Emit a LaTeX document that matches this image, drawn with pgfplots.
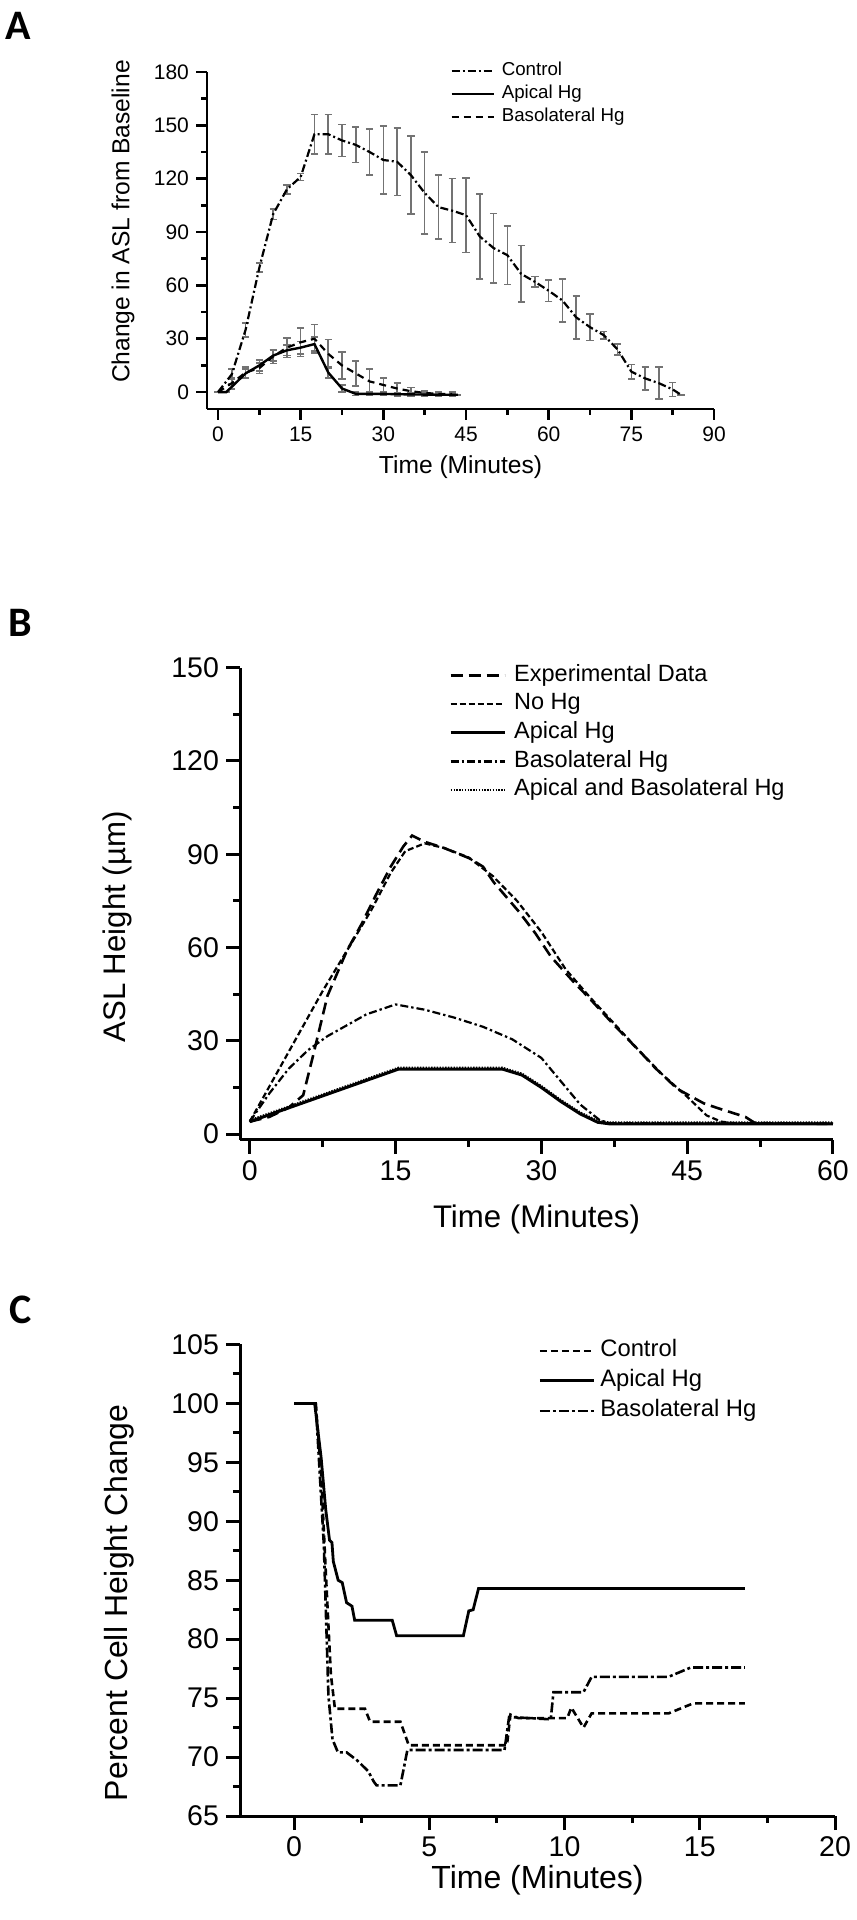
\documentclass[border=0pt]{standalone}
\usepackage{fontspec}
\setmainfont{Liberation Sans}
\newfontfamily\letterfont{Carlito}
\usepackage{pgfplots}
\usepackage{pgfplotstable}
\pgfplotsset{compat=1.18}
\newcommand\fs[1]{\fontsize{#1}{#1}\selectfont}

% ---------- Panel A data ----------
\pgfplotstableread{
x y e
0 0 0
2.5 10 3
5 35 4
7.5 70 2.5
10 100 3
12.5 114 2.5
15 121 2
17.5 145 11
20 145 11
22.5 141.5 9
25 139 10
27.5 135 13
30 130.5 19
32.5 129.5 19
35 122 22
37.5 112 23
40 104 18
42.5 102 18
45 99.5 21
47.5 87.5 24
50 81 19.5
52.5 77 16.5
55 66.5 16
57.5 62 3
60 57 6
62.5 51.5 12
65 42 12
67.5 36.5 7.5
70 32 2
72.5 24 3
75 11.5 4
77.5 7.7 6.5
80 5 9
82.5 1.5 4
84 -1.5 0
}\ctrlA
\pgfplotstableread{
x y e
0 0 0
1.5 0 0
2.5 3 1.5
5 10.5 2.5
7.5 15 3
10 20.5 3
12.5 23.5 3
15 25 3.5
17.5 27 4
20 11 3
22.5 2 2
25 -1 1
27.5 -1 1
30 -1 1
32.5 -1.2 1
35 -1.3 1
37.5 -1.4 0.8
40 -1.5 0.8
42.5 -1.5 0.8
43.5 -1.5 0
}\apicA
\pgfplotstableread{
x y e
0 0 0
2.5 5 3
5 11 3
7.5 13.5 3
10 20 4
12.5 25 5.5
15 28 8
17.5 30 8
20 21.5 8
22.5 15 7.5
25 10.5 7
27.5 6 7
30 4 4
32.5 2 3
35 0.5 2
37.5 -0.5 1
40 -1 1
42.5 -1 1
}\basoA

% ---------- Panel B data ----------
\pgfplotstableread{
x y
0 4
2 5.5
4 8.5
5.5 12.5
6.5 25
8 44.5
10 59
11.5 67.5
13 77
14.5 86
15.8 92.5
16.7 96
18 94
20 92
22.6 88.7
24 86
25.1 81
27.7 71.5
29.4 64.5
31 57
33.3 49
35 43.5
37.5 35
40 27
41.7 21.3
44 14.5
46.7 9.9
48 8.5
50 6.5
51 5.5
52 3.5
60 3.3
}\expB
\pgfplotstableread{
x y
0 4
2.5 18
5 32
7.5 46
10 59
12.5 72
14.5 84
16 91
18 93.5
20 92
22.5 89
25 83
27.5 75
30 65
32.5 53
35 44
37.5 35.5
40 27
42.5 19
45 12
47 6
48.5 4
50 3.5
60 3.3
}\nohgB
\pgfplotstableread{
x y
0 4
15.3 20.9
26 20.9
28 19
30 15
32 10.5
34 6.5
35.8 3.8
37 3.3
60 3.3
}\apicB
\pgfplotstableread{
x y
0 4
2 13
4 21
6 27
8 31.5
10 35
12 38.5
15 41.7
18 40
21 37.5
24 34.5
27 30.5
30 24.5
32 17
34 9.5
36 4.5
37 3.5
60 3.3
}\basoB

% ---------- Panel C data ----------
\pgfplotstableread{
x y
0 100
0.76 100
1.0 95.4
1.17 91
1.31 88.4
1.4 88.2
1.45 86.6
1.63 85
1.78 84.8
1.94 83.1
2.14 82.8
2.24 81.6
3.63 81.6
3.79 80.3
6.26 80.3
6.46 82.4
6.62 82.5
6.82 84.3
16.67 84.3
}\apicC
\pgfplotstableread{
x y
0 100
0.8 100
1.0 94
1.2 84.4
1.36 77
1.51 74.1
2.62 74.1
2.81 73
3.93 73
4.24 71
7.87 71
8.0 73.6
8.3 73.3
10.1 73.3
10.25 74.2
10.7 72.5
11.0 73.7
13.84 73.7
14.75 74.55
16.67 74.55
}\ctrlC
\pgfplotstableread{
x y
0 100
0.8 100
1.1 88
1.27 75.2
1.42 71.5
1.62 70.4
1.94 70.4
2.34 69.7
2.74 68.8
2.95 67.9
3.05 67.6
3.93 67.6
4.19 70.6
7.78 70.6
7.95 73.4
9.49 73.2
9.59 75.5
10.7 75.5
11.0 76.8
13.84 76.8
14.67 77.6
16.67 77.6
}\basoC

\pgfplotsset{
  base/.style={
    scale only axis,
    anchor=south west,
    axis x line*=bottom,
    axis y line*=left,
    xtick pos=left, ytick pos=left,
    tick align=outside,
    /pgf/number format/assume math mode=true,
    minor x tick num=1, minor y tick num=1,
    every tick/.style={black, line width=1.3pt},
    axis line style={black, line width=1.3pt},
    clip=false,
    legend cell align=left,
  },
  ebar/.style={draw=none, mark=none, forget plot,
    error bars/.cd, y dir=both, y explicit,
    error bar style={draw=gray!90!black, line width=0.8pt},
    error mark options={rotate=90, draw=gray!90!black, mark size=1.8pt, line width=0.8pt}},
}

\begin{document}
\begin{tikzpicture}

% ================= Panel A =================
\begin{axis}[base,
  at={(103.5pt,755.5pt)},
  width=253.5pt, height=168.5pt,
  xmin=-2, xmax=90, ymin=-9.5, ymax=180,
  xtick={0,15,...,90}, ytick={0,30,...,180},
  major tick length=5.5pt, minor tick length=3pt,
  tick label style={font=\fs{10.5}},
  xlabel={Time (Minutes)}, ylabel={Change in ASL from Baseline},
  label style={font=\fs{12.3}},
  xlabel style={at={(axis description cs:0.5,-0.172)}, anchor=center},
  ylabel style={at={(axis description cs:-0.1657,0.556)}, anchor=center, rotate=0},
  legend style={draw=none, fill=none, at={(axis description cs:0.4675,1.043)}, anchor=north west,
    font=\fs{9.35}, row sep=2.15pt, column sep=3.5pt,
    nodes={inner sep=0pt, text height=7pt, text depth=2.35pt}},
  legend image code/.code={\draw[#1] (0pt,0pt) -- (21pt,0pt);},
]
\addplot[ebar] table[x=x,y=y,y error=e] {\ctrlA};
\addplot[ebar] table[x=x,y=y,y error=e] {\apicA};
\addplot[ebar] table[x=x,y=y,y error=e] {\basoA};
\addplot[black, line width=1.1pt, dash pattern=on 4pt off 1.5pt on 1pt off 1.5pt] table[x=x,y=y] {\ctrlA};
\addlegendentry{Control}
\addplot[black, line width=1.2pt] table[x=x,y=y] {\apicA};
\addlegendentry{Apical Hg}
\addplot[black, line width=1.1pt, dash pattern=on 3.5pt off 2.5pt] table[x=x,y=y] {\basoA};
\addlegendentry{Basolateral Hg}
\end{axis}

% ================= Panel B =================
\begin{axis}[base,
  at={(120pt,390.15pt)},
  width=296.5pt, height=236pt,
  xmin=-1, xmax=60, ymin=-1.8, ymax=150,
  xtick={0,15,...,60}, ytick={0,30,...,150},
  major tick length=7pt, minor tick length=3.5pt,
  every tick/.style={black, line width=1.5pt},
  axis line style={black, line width=1.5pt},
  tick label style={font=\fs{14.25}},
  xlabel={Time (Minutes)}, ylabel={ASL Height (µm)},
  label style={font=\fs{15.6}},
  xlabel style={at={(axis description cs:0.5,-0.168)}, anchor=center},
  ylabel style={at={(axis description cs:-0.2066,0.4506)}, anchor=center, rotate=0},
  legend style={draw=none, fill=none, at={(axis description cs:0.342,1.018)}, anchor=north west,
    font=\fs{11.75}, row sep=2.6pt, column sep=4pt,
    nodes={inner sep=0pt, text height=8.8pt, text depth=2.95pt}},
  legend image code/.code={\draw[#1] (0pt,0pt) -- (27pt,0pt);},
]
\addplot[black, line width=1.3pt, dash pattern=on 6pt off 3pt] table[x=x,y=y] {\expB};
\addlegendentry{Experimental Data}
\addplot[black, line width=1.1pt, dash pattern=on 3pt off 1.5pt] table[x=x,y=y] {\nohgB};
\addlegendentry{No Hg}
\addplot[black, line width=1.5pt] table[x=x,y=y] {\apicB};
\addlegendentry{Apical Hg}
\addplot[black, line width=1.1pt, dash pattern=on 4pt off 1.5pt on 1.2pt off 1.5pt] table[x=x,y=y] {\basoB};
\addlegendentry{Basolateral Hg}
\addplot[black, line width=1.2pt, dash pattern=on 0.7pt off 0.7pt] table[x=x,y expr=\thisrow{y}+0.4] {\apicB};
\addlegendentry{Apical and Basolateral Hg}
\end{axis}

% ================= Panel C =================
\begin{axis}[base,
  at={(120pt,52pt)},
  width=297.5pt, height=235.75pt,
  xmin=-2, xmax=20, ymin=65, ymax=105,
  xtick={0,5,...,20}, ytick={65,70,...,105},
  major tick length=7pt, minor tick length=3.5pt,
  every tick/.style={black, line width=1.5pt},
  axis line style={black, line width=1.5pt},
  tick label style={font=\fs{14.25}},
  xlabel={Time (Minutes)}, ylabel={Percent Cell Height Change},
  label style={font=\fs{16}},
  xlabel style={at={(axis description cs:0.5,-0.1368)}, anchor=center},
  ylabel style={at={(axis description cs:-0.203,0.4524)}, anchor=center, rotate=0},
  legend style={draw=none, fill=none, at={(axis description cs:0.491,1.021)}, anchor=north west,
    font=\fs{11.9}, row sep=3.1pt, column sep=2.5pt,
    nodes={inner sep=0pt, text height=8.9pt, text depth=3pt}},
  legend image code/.code={\draw[#1] (0pt,0pt) -- (27pt,0pt);},
]
\addplot[black, line width=1.3pt, dash pattern=on 3.5pt off 2pt] table[x=x,y=y] {\ctrlC};
\addlegendentry{Control}
\addplot[black, line width=1.4pt] table[x=x,y=y] {\apicC};
\addlegendentry{Apical Hg}
\addplot[black, line width=1.3pt, dash pattern=on 5pt off 1.5pt on 1.5pt off 1.5pt] table[x=x,y=y] {\basoC};
\addlegendentry{Basolateral Hg}
\end{axis}

\node[anchor=base west, inner sep=0pt, font=\letterfont\bfseries\fs{21}] at (2.5pt,940pt) {A};
\node[anchor=base west, inner sep=0pt, font=\letterfont\bfseries\fs{21}] at (4pt,641.5pt) {B};
\node[anchor=base west, inner sep=0pt, font=\letterfont\bfseries\fs{21}] at (4.5pt,298pt) {C};

\pgfresetboundingbox
\useasboundingbox (0pt,0pt) rectangle (428pt,960pt);
\end{tikzpicture}
\end{document}
